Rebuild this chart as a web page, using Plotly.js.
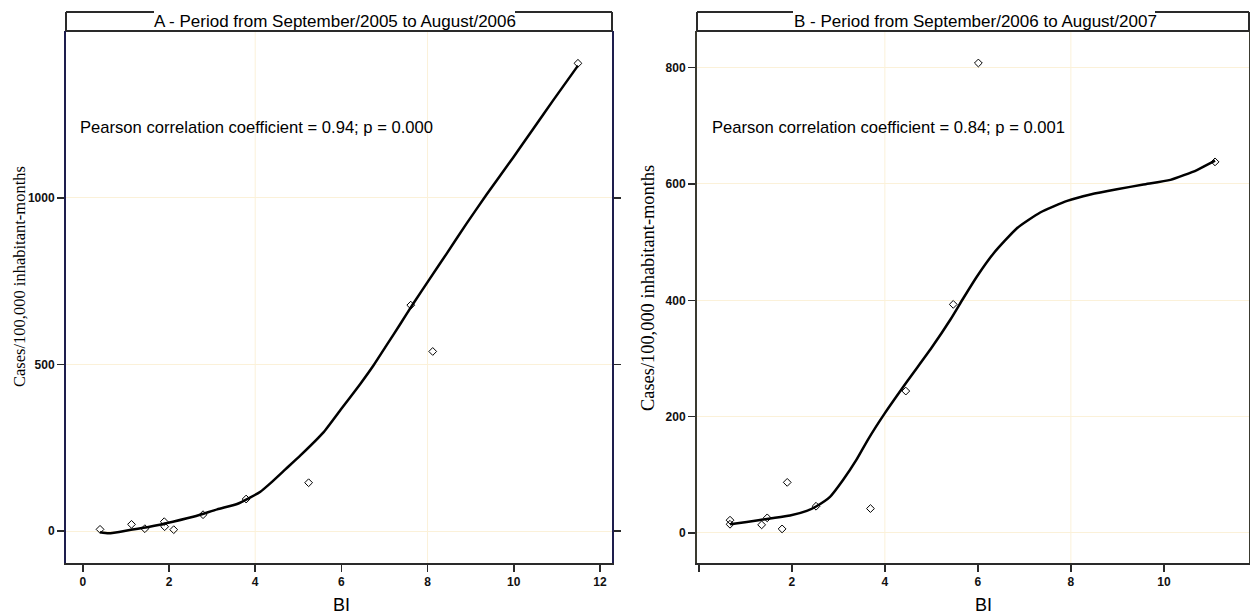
<!DOCTYPE html>
<html>
<head>
<meta charset="utf-8">
<script src="https://cdn.plot.ly/plotly-3.0.1.min.js"></script>
<style>html,body{margin:0;padding:0;background:#fff;}#chart{width:1250px;height:615px;}</style>
</head>
<body>
<div id="chart"></div>
<script>
// ---- Data ----
const titleA = "A - Period from September/2005 to August/2006";
const titleB = "B - Period from September/2006 to August/2007";
const noteA = "Pearson correlation coefficient = 0.94; p = 0.000";
const noteB = "Pearson correlation coefficient = 0.84; p = 0.001";
const yTitle = "Cases/100,000 inhabitant-months";
const xTitle = "BI";

const pointsAx = [0.40, 1.13, 1.44, 1.89, 1.90, 2.11, 2.79, 3.79, 5.24, 7.61, 8.12, 11.49];
const pointsAy = [5, 20, 7, 28, 13, 4, 49, 96, 145, 678, 539, 1404];
const curveAx = [0.40, 0.6, 1.09, 1.55, 2.09, 2.63, 3.12, 3.58, 3.89, 4.12, 4.35, 4.7, 5.05, 5.59, 6.0, 6.43, 6.74, 7.05, 7.36, 7.67, 8.05, 8.44, 8.9, 9.37, 9.98, 10.45, 10.91, 11.49];
const curveAy = [-4, -7, 3, 13, 28, 45, 65, 81, 101, 118, 143, 185, 227, 297, 367, 440, 496, 558, 620, 683, 757, 832, 922, 1010, 1120, 1207, 1292, 1397];

const pointsBx = [0.67, 0.67, 1.35, 1.47, 1.79, 1.90, 2.52, 3.69, 4.45, 5.47, 6.01, 11.1];
const pointsBy = [22, 15, 14, 26, 7, 87, 46, 42, 244, 393, 808, 638];
const curveBx = [0.67, 1.03, 1.53, 1.96, 2.32, 2.53, 2.82, 3.1, 3.39, 3.64, 4.0, 4.5, 5.0, 5.41, 5.69, 5.98, 6.34, 6.84, 7.34, 7.92, 8.42, 8.99, 9.56, 10.14, 10.71, 11.1];
const curveBy = [15, 19, 25, 30, 38, 46, 62, 91, 126, 161, 206, 263, 318, 367, 404, 441, 481, 524, 551, 571, 582, 591, 599, 607, 624, 640];

const xTicksA = [0, 2, 4, 6, 8, 10, 12];
const xTickTextA = ["0", "2", "4", "6", "8", "10", "12"];
const yTicksA = [0, 500, 1000];
const xTicksB = [0, 2, 4, 6, 8, 10];
const xTickTextB = ["", "2", "4", "6", "8", "10"];
const yTicksB = [0, 200, 400, 600, 800];
const gridX = [4, 8];

// ---- Layout helpers (pixel -> paper) ----
const W = 1250, H = 615;
const px = v => v / W;
const py = v => 1 - v / H;

const frameA = {l: 66, r: 612};
const frameB = {l: 697, r: 1249};
const plotTop = 31, plotBot = 563, headTop = 12;

const tickFont = {family: "Liberation Sans, Arial, sans-serif", size: 12, color: "#111", weight: "bold"};
const lineCol = "#2a2a2a";
const gridCol = "#fbf1d9";

function xaxis(domain, range, tv, tt, anchor) {
  return {domain: domain, range: range, tickmode: "array", tickvals: tv, ticktext: tt,
    ticks: "outside", ticklen: 7, tickwidth: 1.5, tickcolor: lineCol,
    showline: true, linecolor: lineCol, linewidth: 2, mirror: false,
    showgrid: false, zeroline: false, tickfont: tickFont, anchor: anchor};
}
function yaxis(domain, range, tv, anchor, lc) {
  return {domain: domain, range: range, tickmode: "array", tickvals: tv,
    ticks: "outside", ticklen: 7, tickwidth: 1.5, tickcolor: lineCol,
    showline: true, linecolor: lc, linewidth: 2, mirror: "ticks",
    showgrid: true, gridcolor: gridCol, gridwidth: 1, zeroline: false,
    tickfont: tickFont, anchor: anchor};
}

const yDom = [py(plotBot), py(plotTop)];
const curveLine = {color: "#000", width: 2.5, shape: "spline", smoothing: 0.5};
const marker = {symbol: "diamond-open", size: 6, color: "#000", line: {width: 1}};

const traces = [
  {x: curveAx, y: curveAy, xaxis: "x", yaxis: "y", mode: "lines", line: curveLine, hoverinfo: "skip", showlegend: false},
  {x: pointsAx, y: pointsAy, xaxis: "x", yaxis: "y", mode: "markers", marker: marker, showlegend: false},
  {x: curveBx, y: curveBy, xaxis: "x2", yaxis: "y2", mode: "lines", line: curveLine, hoverinfo: "skip", showlegend: false},
  {x: pointsBx, y: pointsBy, xaxis: "x2", yaxis: "y2", mode: "markers", marker: marker, showlegend: false}
];

const shapes = [];
gridX.forEach(g => {
  shapes.push({type: "line", xref: "x", yref: "y domain", x0: g, x1: g, y0: 0, y1: 1, line: {color: gridCol, width: 1}, layer: "below"});
  shapes.push({type: "line", xref: "x2", yref: "y2 domain", x0: g, x1: g, y0: 0, y1: 1, line: {color: gridCol, width: 1}, layer: "below"});
});
function header(f, gapL, gapR) {
  const s = {xref: "paper", yref: "paper", type: "line", line: {color: lineCol, width: 2}};
  shapes.push(Object.assign({}, s, {x0: px(f.l), x1: px(f.r), y0: py(plotTop), y1: py(plotTop)}));
  shapes.push(Object.assign({}, s, {x0: px(f.l), x1: px(f.l), y0: py(plotTop), y1: py(headTop)}));
  shapes.push(Object.assign({}, s, {x0: px(f.r), x1: px(f.r), y0: py(plotTop), y1: py(headTop)}));
  shapes.push(Object.assign({}, s, {x0: px(f.l), x1: px(gapL), y0: py(headTop), y1: py(headTop)}));
  shapes.push(Object.assign({}, s, {x0: px(gapR), x1: px(f.r), y0: py(headTop), y1: py(headTop)}));
}
header(frameA, 154, 515);
header(frameB, 793, 1155);

const sans = "Liberation Sans, Arial, sans-serif";
const serif = "Liberation Serif, Times New Roman, serif";
const annotations = [
  {text: titleA, xref: "paper", yref: "paper", x: px(334.5), y: py(21.5), xanchor: "center", yanchor: "middle", showarrow: false, font: {family: sans, size: 17, color: "#000"}},
  {text: titleB, xref: "paper", yref: "paper", x: px(975), y: py(21.5), xanchor: "center", yanchor: "middle", showarrow: false, font: {family: sans, size: 17, color: "#000"}},
  {text: noteA, xref: "x domain", yref: "y domain", x: (78 - frameA.l) / (frameA.r - frameA.l), y: (plotBot - 128) / (plotBot - plotTop), xanchor: "left", yanchor: "middle", showarrow: false, font: {family: sans, size: 16.6, color: "#000"}},
  {text: noteB, xref: "x2 domain", yref: "y2 domain", x: (710 - frameB.l) / (frameB.r - frameB.l), y: (plotBot - 127) / (plotBot - plotTop), xanchor: "left", yanchor: "middle", showarrow: false, font: {family: sans, size: 16.6, color: "#000"}},
  {text: yTitle, xref: "paper", yref: "paper", x: px(19), y: py(277), xanchor: "center", yanchor: "middle", textangle: -90, showarrow: false, font: {family: serif, size: 16.5, color: "#000"}},
  {text: yTitle, xref: "paper", yref: "paper", x: px(648), y: py(288), xanchor: "center", yanchor: "middle", textangle: -90, showarrow: false, font: {family: serif, size: 18.4, color: "#000"}},
  {text: xTitle, xref: "paper", yref: "paper", x: px(341), y: py(605), xanchor: "center", yanchor: "middle", showarrow: false, font: {family: sans, size: 18, color: "#000"}},
  {text: xTitle, xref: "paper", yref: "paper", x: px(983), y: py(605), xanchor: "center", yanchor: "middle", showarrow: false, font: {family: sans, size: 18, color: "#000"}}
];

const layout = {
  width: W, height: H,
  margin: {l: 0, r: 0, t: 0, b: 0},
  paper_bgcolor: "#fff", plot_bgcolor: "#fff",
  showlegend: false,
  xaxis: xaxis([px(frameA.l), px(frameA.r)], [-0.39, 12.28], xTicksA, xTickTextA, "y"),
  yaxis: yaxis(yDom, [-96, 1501], yTicksA, "x", "#1e1e4e"),
  xaxis2: xaxis([px(frameB.l), px(frameB.r)], [-0.04, 11.83], xTicksB, xTickTextB, "y2"),
  yaxis2: yaxis(yDom, [-51.6, 863], yTicksB, "x2", "#3a3a30"),
  shapes: shapes,
  annotations: annotations
};

Plotly.newPlot("chart", traces, layout, {staticPlot: true, displayModeBar: false});
</script>
</body>
</html>
